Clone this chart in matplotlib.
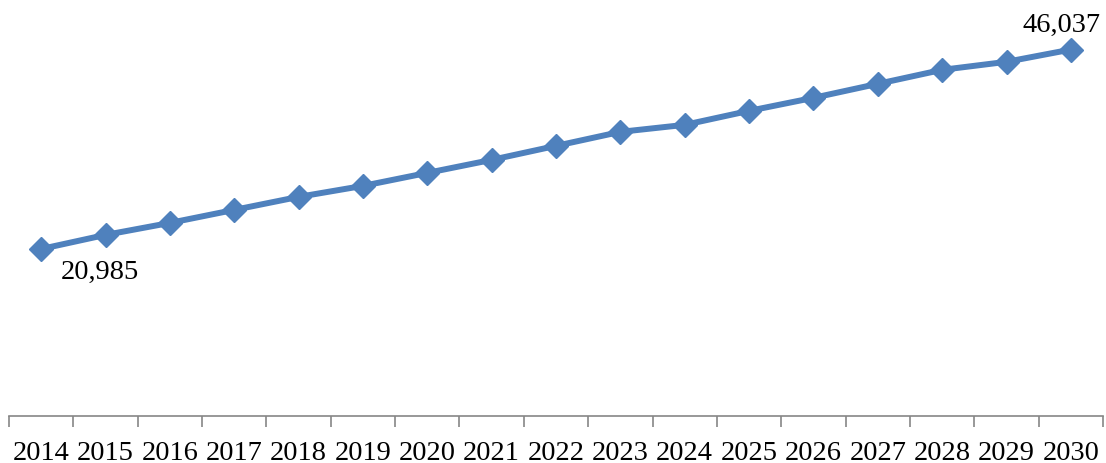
import matplotlib
matplotlib.use("Agg")
import matplotlib.pyplot as plt
from matplotlib.ticker import FixedLocator

years = [str(y) for y in range(2014, 2031)]
values = [20985, 22752, 24260, 25894, 27528, 28911, 30545, 32179, 33939,
          35699, 36579, 38338, 39973, 41732, 43492, 44498, 46037]

line_color = "#4F81BD"
axis_color = "#868686"
font = ["Liberation Serif", "DejaVu Serif"]

fig = plt.figure(figsize=(11.06, 4.64), dpi=100)
ax = fig.add_axes([0.00814, 0.1013, 0.9892, 0.8577])

x = list(range(len(years)))
ax.plot(x, values, color=line_color, lw=4.3, marker="D", markersize=12,
        markerfacecolor=line_color, markeredgecolor=line_color, solid_joinstyle="round")

ax.set_xlim(-0.5, len(years) - 0.5)
ax.set_ylim(0, 50000)

# category labels at centres, tick marks on the boundaries
ax.xaxis.set_major_locator(FixedLocator(x))
ax.set_xticklabels(years, fontfamily=font, fontsize=20.5)
ax.xaxis.set_minor_locator(FixedLocator([i - 0.5 for i in range(len(years) + 1)]))
ax.tick_params(axis="x", which="major", length=0, pad=17)
ax.tick_params(axis="x", which="minor", length=8, width=1.2, color=axis_color, direction="out")
ax.set_yticks([])

for side in ("left", "right", "top"):
    ax.spines[side].set_visible(False)
ax.spines["bottom"].set_color(axis_color)
ax.spines["bottom"].set_linewidth(1.2)

ax.annotate(f"{values[0]:,}", (x[0], values[0]), xytext=(42, -16),
            textcoords="offset points", ha="center", va="center",
            fontfamily=font, fontsize=20.5, color="black")
ax.annotate(f"{values[-1]:,}", (x[-1], values[-1]), xytext=(-7, 18),
            textcoords="offset points", ha="center", va="center",
            fontfamily=font, fontsize=20.5, color="black")

fig.savefig("out.png", dpi=100)
